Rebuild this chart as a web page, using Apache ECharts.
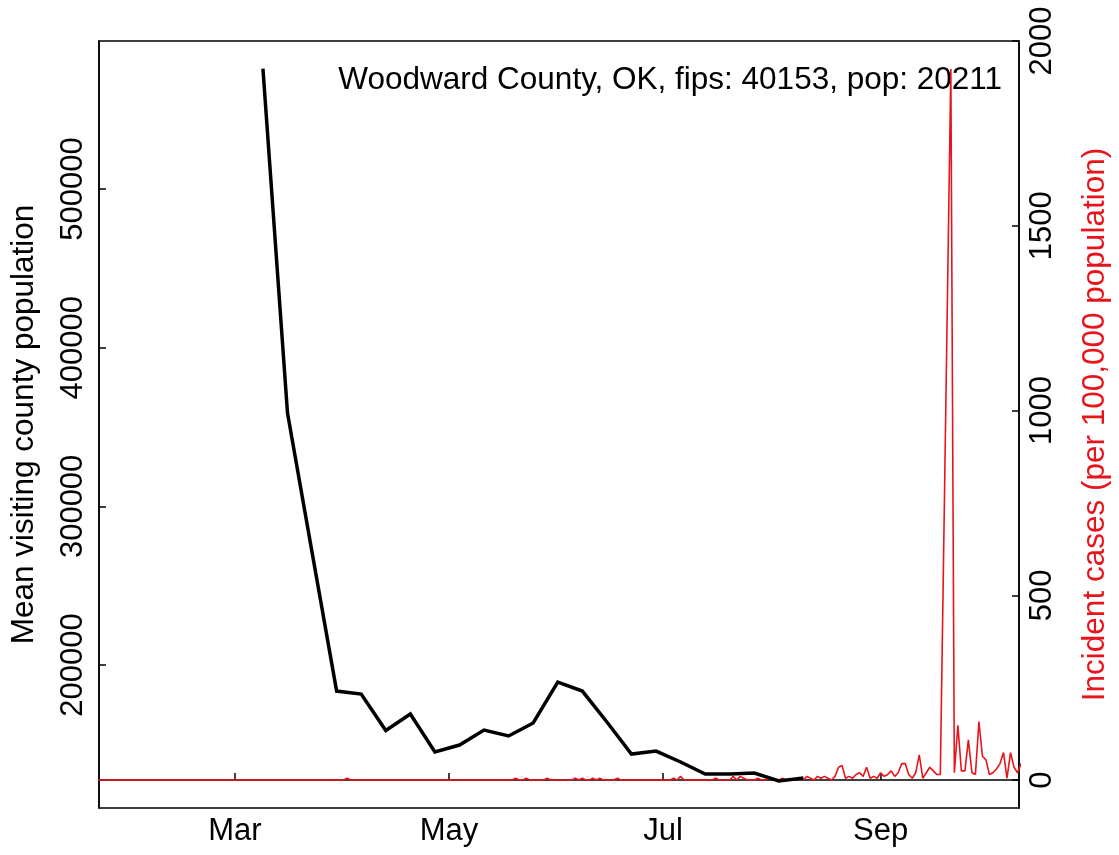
<!DOCTYPE html>
<html>
<head>
<meta charset="utf-8">
<script src="https://cdn.jsdelivr.net/npm/echarts@6/dist/echarts.min.js"></script>
<style>
  html, body { margin: 0; padding: 0; background: #fff; }
  #chart { width: 1119px; height: 855px; }
</style>
</head>
<body>
<div id="chart"></div>
<script>
const DAY = 86400000;

// weekly mean visiting county population (Mondays, from 2020-03-09)
const visitStart = Date.UTC(2020, 2, 9);
const visitValues = [
  575900, 358800, 271000, 183600, 181700, 158700, 169100, 145200, 149600,
  159000, 155300, 163500, 189300, 183600, 164100, 143900, 145800, 138900,
  131300, 131300, 131900, 126900, 128800
];

// daily incident cases per 100,000 (from 2020-01-22), null = not reported
const caseStart = Date.UTC(2020, 0, 22);
const caseValues = [
  // Jan 22 - Mar 1
  0, 0, 0, 0, 0, 0, 0, 0, 0, 0, 0, 0, 0, 0, 0, 0, 0, 0, 0, 0,
  0, 0, 0, 0, 0, 0, 0, 0, 0, 0, 0, 0, 0, 0, 0, 0, 0, 0, 0, 0,
  // Mar 2 - Apr 10
  0, 0, 0, 0, 0, 0, 0, 0, 0, 0, 0, 0, 0, 0, 0, 0, 0, 0, 0, 0,
  0, 0, 0, 0, 0, 0, 0, 0, 0, 0, 0, 4.9, 0, 0, 0, 0, 0, 0, 0, 0,
  // Apr 11 - May 20
  0, 0, 0, 0, 0, 0, 0, 0, 0, 0, 0, 0, 0, 0, 0, 0, 0, 0, 0, 0,
  0, 0, 0, 0, 0, 0, 0, 0, 0, 0, 0, 0, 0, 0, 0, 0, 0, 0, 0, 4.9,
  // May 21 - Jun 29
  0, 0, 4.9, 0, 0, 0, 0, 0, 4.9, 0, 0, 0, 0, 0, 0, 0, 4.9, 0, 4.9, 0,
  0, 4.9, 0, 4.9, 0, 0, 0, 0, 4.9, 0, 0, 0, 0, 0, 0, 0, 0, 0, 0, 0,
  // Jun 30 - Aug 8
  0, 0, 0, 0, 4.9, 0, 9.9, 0, 0, 0, 0, 0, 0, 0, 0, 0, 4.9, 0, 0, 0,
  0, 9.9, 0, 9.9, 4.9, 0, 0, 0, 4.9, 0, 0, 4.9, 0, 0, 0, 4.9, 0, 0, 0, 0,
  // Aug 9 - Sep 17
  4.9, 0, 9.9, 4.9, 0, 9.9, 4.9, 9.9, 4.9, 0, 9.9, 34.6, 39.6, 4.9, 9.9, 4.9, 14.8, 19.8, 9.9, 34.6,
  4.9, 9.9, 4.9, 19.8, 9.9, 14.8, 24.7, 9.9, 19.8, 44.5, 44.5, 14.8, 4.9, 19.8, 68.3, 4.9, 19.8, 34.6, 24.7, 14.8,
  // Sep 18 - Oct 11
  14.8, null, null, 1924, 19.8, 148.4, 24.7, 24.7, 108.8, 19.8, 14.8, 158.3, 64.3, 54.4, 14.8, 19.8,
  29.7, 44.5, 74.2, 4.9, 74.2, 34.6, 19.8, 44.5
];

const monthTicks = [Date.UTC(2020, 2, 1), Date.UTC(2020, 4, 1), Date.UTC(2020, 6, 1), Date.UTC(2020, 8, 1)];
const monthNames = ['Jan', 'Feb', 'Mar', 'Apr', 'May', 'Jun', 'Jul', 'Aug', 'Sep', 'Oct', 'Nov', 'Dec'];
const visitTicks = [200000, 300000, 400000, 500000];
const caseTicks = [0, 500, 1000, 1500, 2000];

const FONT = '"Liberation Sans", Arial, sans-serif';
const RED = '#e8141c';

const visitData = visitValues.map((v, i) => [visitStart + i * 7 * DAY, v]);
const caseData = caseValues.map((v, i) => [caseStart + i * DAY, v]);

const chart = echarts.init(document.getElementById('chart'), null, { renderer: 'canvas' });

const axisCommon = {
  axisLine: { show: true, lineStyle: { color: '#000', width: 1.5 } },
  axisTick: { show: true, inside: true, length: 7, lineStyle: { color: '#000', width: 1.5 } },
  splitLine: { show: false }
};

chart.setOption({
  animation: false,
  backgroundColor: '#fff',
  grid: { left: 99, right: 98, top: 41, bottom: 47, show: true, borderColor: '#000', borderWidth: 1.5 },
  xAxis: {
    type: 'value',
    min: Date.UTC(2020, 0, 22, 7),
    max: Date.UTC(2020, 9, 10, 10),
    ...axisCommon,
    axisTick: { ...axisCommon.axisTick, customValues: monthTicks },
    axisLabel: {
      customValues: monthTicks,
      margin: 8,
      color: '#000',
      fontFamily: FONT,
      fontSize: 31,
      formatter: v => monthNames[new Date(v).getUTCMonth()]
    }
  },
  yAxis: [
    {
      type: 'value',
      position: 'left',
      min: 109900,
      max: 593300,
      name: 'Mean visiting county population',
      nameLocation: 'middle',
      nameGap: 59,
      nameTextStyle: { color: '#000', fontFamily: FONT, fontSize: 31.5 },
      ...axisCommon,
      axisTick: { ...axisCommon.axisTick, customValues: visitTicks },
      axisLabel: {
        customValues: visitTicks,
        rotate: 90,
        margin: 10,
        color: '#000',
        fontFamily: FONT,
        fontSize: 31,
        formatter: v => String(v)
      }
    },
    {
      type: 'value',
      position: 'right',
      min: -75.7,
      max: 2000,
      name: 'Incident cases (per 100,000 population)',
      nameLocation: 'middle',
      nameGap: 60,
      nameTextStyle: { color: RED, fontFamily: FONT, fontSize: 31.5 },
      ...axisCommon,
      axisTick: { ...axisCommon.axisTick, customValues: caseTicks },
      axisLabel: {
        customValues: caseTicks,
        rotate: 90,
        margin: 8,
        color: '#000',
        fontFamily: FONT,
        fontSize: 31,
        formatter: v => String(v)
      }
    }
  ],
  graphic: [{
    type: 'text',
    x: 1002,
    y: 80,
    style: {
      text: 'Woodward County, OK, fips: 40153, pop: 20211',
      font: '31.5px "Liberation Sans", Arial, sans-serif',
      fill: '#000',
      align: 'right',
      verticalAlign: 'middle'
    }
  }],
  series: [
    {
      type: 'line',
      yAxisIndex: 1,
      data: caseData,
      connectNulls: true,
      showSymbol: false,
      clip: true,
      lineStyle: { color: RED, width: 1.6 },
      z: 2
    },
    {
      type: 'line',
      yAxisIndex: 0,
      data: visitData,
      showSymbol: false,
      clip: true,
      lineStyle: { color: '#000', width: 3.5, join: 'miter' },
      z: 3
    }
  ]
});
</script>
</body>
</html>
